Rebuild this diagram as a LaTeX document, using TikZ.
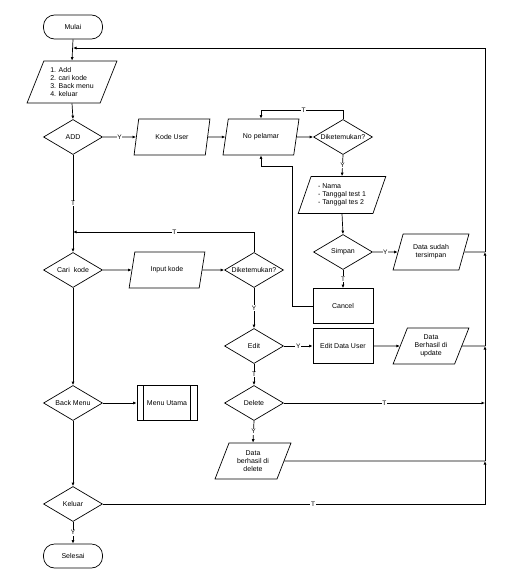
\documentclass[tikz,border=0pt]{standalone}
\usepackage{fontspec}
\setmainfont{Liberation Sans}
\usetikzlibrary{shapes.geometric,arrows.meta}

\begin{document}
\begin{tikzpicture}
[x=1pt,y=-1pt,
  lineDecorate/.style={-{Latex[length=3.5pt,width=3pt]},line width=0.7pt},%
  plainDecorate/.style={-,line width=0.7pt},
  terminalDecorate/.style={rectangle,rounded corners=11pt,draw,line width=0.7pt,minimum width=59pt,minimum height=24pt},
  diamondDecorate/.style={diamond,aspect=1.7,inner sep=0pt,draw,line width=0.7pt,minimum width=59pt,minimum height=35pt},
  ioDecorate/.style={trapezium,trapezium left angle=66,trapezium right angle=114,trapezium stretches=true,draw,line width=0.7pt,minimum width=76pt,minimum height=36pt,inner sep=0pt,align=center},
  processDecorate/.style={rectangle,draw,line width=0.7pt,minimum width=60pt,minimum height=35pt},
  labelDecorate/.style={fill=white,inner sep=0.6pt,font=\fontsize{6.5}{7}\selectfont},
  font=\fontsize{7}{8}\selectfont]
\useasboundingbox (0,0) rectangle (524,578);
%% nodes or vertices
\foreach \nodename/\x/\y/\nodetext in {
  mulai/73/27/Mulai,
  selesai/73/556/Selesai}
{
  \node (\nodename) at (\x,\y) [terminalDecorate] {\nodetext};
}
\foreach \nodename/\x/\y/\nodetext in {
  add/73/137/ADD,
  cari/73/270/{Cari~ kode},
  back/73/403/Back Menu,
  keluar/73/504/Keluar,
  dik1/343/137/Diketemukan?,
  simpan/343/252/Simpan,
  dik2/254/270/Diketemukan?,
  edit/254/346/Edit,
  delete/254/403/Delete}
{
  \node (\nodename) at (\x,\y) [diamondDecorate] {\nodetext};
}
\foreach \nodename/\x/\y/\nodetext in {
  kode/172/137/Kode User,
  nopel/261/137/No pelamar,
  tersimpan/431/252/{Data sudah\\tersimpan},
  input/167/270/Input kode,
  update/431/346/{Data\\Berhasil di\\update},
  hapus/253/461/{Data\\berhasil di\\delete}}
{
  \node (\nodename) at (\x,\y) [ioDecorate] {\nodetext};
}
\node (menu) at (72,82) [ioDecorate,minimum width=90pt,minimum height=42pt,align=left]
  {1. Add\\2. cari kode\\3. Back menu\\4. keluar};
\node (list) at (342,195) [ioDecorate,minimum width=88pt,minimum height=37pt,align=left]
  {- Nama\\- Tanggal test 1\\- Tanggal tes 2};
\foreach \nodename/\x/\y/\nodetext in {
  cancel/343/306/Cancel,
  editdata/343/346/Edit Data User,
  utama/167/403/Menu Utama}
{
  \node (\nodename) at (\x,\y) [processDecorate] {\nodetext};
}
\draw[plainDecorate] ([xshift=7pt]utama.north west) -- ([xshift=7pt]utama.south west);
\draw[plainDecorate] ([xshift=-7pt]utama.north east) -- ([xshift=-7pt]utama.south east);
%% bends and joins
\coordinate (topA) at (343,110);
\coordinate (midA) at (292,166);
\coordinate (jCari) at (73,232);
\coordinate (jMenu) at (73,48);
\coordinate (rA) at (485,504);
\coordinate (rB) at (485,461);
\coordinate (rC) at (485,403);
\coordinate (rD) at (485,346);
\coordinate (rE) at (485,252);
\coordinate (rF) at (485,48);
%% edges or lines
\path
\foreach \startnode/\endnode in {
  mulai.south/menu.north, menu.south/add.north, kode.east/nopel.west,
  nopel.east/dik1.west, list.south/simpan.north, cari.east/input.west,
  input.east/dik2.west, editdata.east/update.west, cari.south/back.north,
  back.east/utama.west, back.south/keluar.north}
{
  (\startnode) edge[lineDecorate] (\endnode)
};
\path
\foreach \startnode/\endnode/\lbl in {
  add.east/kode.west/Y, dik1.south/list.north/Y, simpan.east/tersimpan.west/Y,
  simpan.south/cancel.north/T, add.south/cari.north/T, dik2.south/edit.north/Y,
  edit.east/editdata.west/Y, edit.south/delete.north/T, delete.east/rC/T,
  delete.south/hapus.north/Y, keluar.south/selesai.north/Y}
{
  (\startnode) edge[lineDecorate] node[labelDecorate] {\lbl} (\endnode)
};
\draw[lineDecorate] (dik1.north) -- (topA) -| node[labelDecorate,pos=0.24] {T} (nopel.north);
\draw[lineDecorate] (cancel.west) -| (midA) -| (nopel.south);
\draw[lineDecorate] (dik2.north) |- node[labelDecorate,pos=0.72] {T} (jCari);
\draw[lineDecorate] (keluar.east) -- node[labelDecorate,pos=0.55] {T} (rA) -- (rB);
\draw[plainDecorate] (hapus.east) -- (rB);
\draw[lineDecorate] (rB) -- (rD);
\draw[plainDecorate] (update.east) -- (rD);
\draw[lineDecorate] (rD) -- (rE);
\draw[plainDecorate] (tersimpan.east) -- (rE);
\draw[lineDecorate] (rE) -- (rF) -- (jMenu);
\end{tikzpicture}
\end{document}
